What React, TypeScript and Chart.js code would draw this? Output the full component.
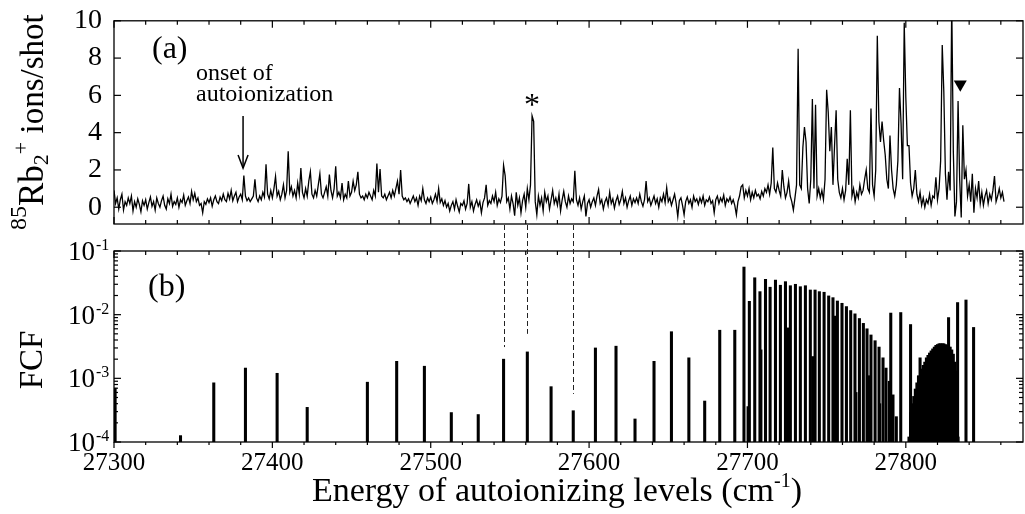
import React, { useEffect, useRef } from 'react';
import { Chart, registerables } from 'chart.js';

Chart.register(...registerables);

const W = 1025;
const H = 514;
const FONT = '"Liberation Serif", "Times New Roman", serif';

// ---------- axes ----------
const xMin = 27300;
const xMax = 27874;
const xTickValues = [27300, 27400, 27500, 27600, 27700, 27800];
const xMinorStep = 20;
const topYMin = -0.9;
const topYMax = 10;
const topYTickValues = [0, 2, 4, 6, 8, 10];
const fcfMin = 1e-4;
const fcfMax = 1e-1;
const fcfDecadeExponents = [-4, -3, -2, -1];

// ---------- (a) ion spectrum, 1 cm-1 steps from 27300 ----------
const spectrumStart = 27300;
const spectrumStep = 1;
const spectrumIons = [
  0.9, 0.2, 0.5, -0.1, 0.4, 0.7, -0.15, 0.3, 0.1, 0.5,
  0.2, 0.6, -0.2, 0.3, 0.0, 0.45, 0.15, -0.25, 0.35, 0.1,
  0.4, -0.1, 0.25, 0.55, 0.05, 0.3, -0.15, 0.5, 0.2, 0.0,
  0.35, 0.6, 0.1, -0.1, 0.45, 0.2, 0.7, 0.05, 0.3, 0.15,
  0.5, 0.0, 0.4, 0.25, 0.65, 0.1, 0.35, 0.55, 0.2, 0.85,
  0.4, 0.75, 0.3, 0.5, 0.1, 0.2, -0.3, 0.3, 0.15, 0.45,
  0.25, 0.5, 0.05, 0.4, 0.6, 0.3, 0.2, 0.55, 0.35, 0.7,
  0.4, 0.3, 0.75, 0.45, 0.9, 0.35, 0.6, 0.8, 0.3, 0.55,
  0.7, 0.4, 1.7, 0.6, 0.35, 0.5, 0.3, 0.45, 0.6, 1.5,
  0.5, 0.3, 0.6, 0.4, 0.8, 0.55, 2.3, 0.7, 0.45, 0.9,
  0.5, 1.0, 1.65, 0.6, 0.85, 0.4, 0.7, 1.2, 0.5, 0.9,
  3.0, 0.8, 1.1, 0.6, 0.9, 0.5, 1.3, 0.7, 2.1, 0.8,
  0.5, 1.0, 0.6, 1.4, 1.9, 0.7, 0.5, 0.9, 0.6, 1.2,
  1.8, 0.7, 0.5, 0.8, 1.1, 0.6, 1.75, 0.9, 0.5, 1.0,
  2.2, 0.6, 0.8, 0.5, 1.3, 0.4, 0.7, 0.5, 1.4, 0.6,
  0.8, 1.4, 0.9, 1.2, 1.9, 0.7, 0.5, 0.6, 0.4, 0.7,
  0.5, 0.8, 0.6, 0.4, 0.9, 0.6, 2.35, 0.8, 2.05, 0.6,
  0.5, 0.7, 0.4, 0.6, 0.8, 0.5, 0.9, 0.6, 1.0, 1.4,
  0.7, 2.0, 0.6, 0.4, 0.5, 0.3, 0.45, 0.2, 0.4, 0.6,
  0.3, 0.5, 0.1, 0.6, 0.35, 1.0, 0.4, 0.2, 0.5, 0.3,
  0.55, 0.2, 0.4, 0.7, 0.3, 1.0, 0.25, 0.45, 0.1, 0.35,
  0.0, 0.2, -0.2, 0.1, 0.3, -0.1, 0.4, 0.05, -0.25, 0.2,
  0.1, 0.35, -0.1, 0.2, 1.25, 0.0, 0.3, -0.2, 0.15, 0.4,
  0.05, 0.3, -0.3, 0.25, 0.5, 1.2, 0.1, 0.35, 0.2, 0.6,
  0.3, 0.8, 0.1, 0.45, 0.25, 0.6, 2.25, 1.7, 0.3, 0.5,
  -0.1, 0.6, 0.2, -0.45, 0.8, 0.1, 0.5, -0.3, 0.35, 0.7,
  0.0, 1.0, 0.4, 1.2, 4.9, 4.6, 0.3, -0.4, 0.6, 0.1,
  0.5, -0.2, 0.8, 0.3, 0.6, -0.1, 0.4, 0.9, 0.2, 0.5,
  0.1, 0.7, -0.2, 0.4, 0.85, 0.3, 0.0, 0.6, 0.2, 0.45,
  0.3, 1.95, 0.4, 0.1, 0.5, -0.1, 0.3, 0.6, -0.5, 0.2,
  0.4, 0.0, 0.3, 0.5, 0.1, 0.6, 0.95, 0.2, 0.4, -0.1,
  0.3, 0.5, 0.1, 0.8, 0.2, 0.45, -0.05, 0.35, 0.6, 0.15,
  0.4, 0.85, 0.2, 0.5, 0.0, 0.35, 0.6, 0.1, 0.45, 0.25,
  0.5, 0.2, 0.7, 0.3, 0.05, 0.4, 1.4, 0.3, 0.5, 0.1,
  0.35, 0.6, 0.2, 0.45, 0.0, 0.5, 0.3, 0.7, 0.25, 1.05,
  0.3, 0.5, 0.1, 0.4, 0.7, 0.2, -0.5, 0.35, 0.5, 0.1,
  -0.4, 0.3, 0.55, 0.2, 0.4, 0.0, 0.6, 0.3, 0.45, 0.15,
  0.5, 0.25, 0.6, 0.1, 0.4, 0.3, 0.55, 0.2, 0.35, -0.3,
  0.4, 0.6, 0.2, 0.5, 0.3, 0.65, 0.1, 0.45, 0.3, 0.55,
  0.2, 0.4, 0.1, -0.4, 0.3, 0.6, 1.1, 1.2, 0.5, 0.9,
  0.6, 1.0, 0.4, 0.8, 0.5, 0.9, 0.6, 0.7, 0.45, 0.85,
  0.6, 1.0, 0.8, 1.2, 0.7, 1.3, 3.2, 1.0, 0.8, 1.3,
  0.9, 0.6, 2.0, 1.1, 0.5, 0.8, 1.4, 0.6, 0.3, -0.15,
  0.5, 1.2, 8.5, 1.2, 1.0, 3.2, 4.3, 3.5, 1.0, 0.2,
  1.5, 5.8, 1.0, 5.5, 0.6, 1.0, 0.5, 0.9, 0.4, 1.5,
  6.3, 5.1, 3.0, 4.3, 1.2, 3.3, 5.2, 1.5, 0.8, 0.5,
  1.0, 0.4, 0.9, 2.6, 1.2, 5.2, 0.6, 1.0, 0.3, 0.8,
  0.5, 1.2, 0.7, 0.9, 1.5, 2.0, 1.0, 0.8, 5.3, 1.2,
  0.6, 2.0, 9.2, 4.6, 3.5, 4.6, 3.6, 2.8, 1.5, 1.0,
  3.85, 2.0, 1.0, 0.6, 1.2, 2.5, 6.4, 4.5, 1.5, 9.9,
  5.9, 3.3, 3.3, 1.3, 0.6, 1.0, 2.0, 0.7, 0.3, 0.8,
  0.1, 0.5, 0.0, 0.4, 0.2, 0.7, 0.1, 0.6, 0.5, 1.6,
  0.4, 1.0, 2.5, 8.7, 6.2, 1.8, 0.4, 1.9, 0.9, 11,
  3.0, -0.5, 0.3, 5.7, 1.5, -0.55, 4.4, 1.5, 2.0, 0.6,
  1.2, 0.3, 1.8, -0.3, 1.0, 0.5, 1.4, 0.2, 0.8, 0.1,
  0.6, 0.9, 0.2, 0.7, 0.4, 0.9, 1.67, 0.3, 0.6, 1.0,
  0.5, 0.8, 0.3,
];

// annotations of (a)
const onsetEnergy = 27381.5;
const starEnergy = 27564;
const markerEnergy = 27834.4;

// ---------- (b) Franck-Condon factors ----------
const levelEnergies = [
  27300.7, 27342, 27363, 27383, 27403, 27422, 27460, 27478.5, 27496, 27513,
  27530, 27546, 27561, 27576, 27590, 27604, 27617, 27629, 27641, 27652,
  27663, 27673, 27682.5, 27692, 27790.5, 27796.8, 27803, 27827, 27832.7,
  27838, 27842.8,
];
const levelFcf = [
  7e-4, 1.26e-4, 8.5e-4, 1.45e-3, 1.2e-3, 3.5e-4, 8.7e-4, 1.85e-3, 1.55e-3, 2.9e-4,
  2.7e-4, 2.0e-3, 2.6e-3, 7.4e-4, 3.1e-4, 3.0e-3, 3.2e-3, 2.3e-4, 1.85e-3, 5.4e-3,
  2.1e-3, 4.4e-4, 5.7e-3, 5.7e-3, 1.06e-2, 1.08e-2, 7.0e-3, 9.0e-3, 1.55e-2,
  1.7e-2, 6.3e-3,
];
const combEnergies = [
  27697.8, 27701.2, 27704.6, 27707.9, 27711.4, 27714.3, 27717.7, 27720.8, 27724.0, 27727.1,
  27730.3, 27733.4, 27736.6, 27739.7, 27742.7, 27745.4, 27748.4, 27751.3, 27754.0, 27756.8,
  27759.7, 27762.5, 27765.2, 27767.9, 27770.7, 27773.2, 27775.5, 27778.0, 27780.6, 27783.1,
  27785.6, 27787.5, 27789.6, 27791.9, 27794.0,
];
const combFcf = [
  0.056, 0.0162, 0.038, 0.023, 0.036, 0.027, 0.035, 0.029, 0.033, 0.0285,
  0.030, 0.0275, 0.0285, 0.0244, 0.0244, 0.023, 0.0225, 0.0197, 0.0185, 0.0164,
  0.0151, 0.0134, 0.0116, 0.0103, 0.0087, 0.0073, 0.0060, 0.0048, 0.0039, 0.0031,
  0.0021, 0.00145, 0.0009, 0.00055, 0.00025,
];
const sideEnergies = [27700.4, 27708.5, 27725.9, 27741.2, 27755.6, 27768.5, 27776.6, 27783.5];
const sideFcf = [3.6e-4, 2.8e-3, 6.2e-3, 2.2e-3, 9.5e-3, 6e-4, 1.1e-3, 4e-4];
const humpEnergies = [
  27802, 27803, 27804, 27805, 27806, 27807, 27808, 27809, 27810, 27811,
  27812, 27813, 27814, 27815, 27816, 27817, 27818, 27819, 27820, 27821,
  27822, 27823, 27824, 27825, 27826, 27827, 27828, 27829, 27830, 27831,
  27832, 27833,
];
const humpFcf = [
  1.2e-4, 2.9e-4, 4e-4, 5.2e-4, 6.8e-4, 8.5e-4, 1.1e-3, 2.1e-3, 1.4e-3, 1.6e-3,
  1.8e-3, 2.1e-3, 2.3e-3, 2.5e-3, 2.7e-3, 2.9e-3, 3.1e-3, 3.3e-3, 3.4e-3, 3.5e-3,
  3.5e-3, 3.5e-3, 3.5e-3, 3.4e-3, 3.3e-3, 3.2e-3, 3.1e-3, 2.8e-3, 2.4e-3, 1.8e-3,
  1.3e-3, 1.2e-4,
];

// dashed connectors between (a) and (b)
const dashEnergies = [27546, 27561, 27590];
const dashEndFcf = [3.1e-3, 5.0e-3, 5.7e-4];

function seg(ctx: CanvasRenderingContext2D, x1: number, y1: number, x2: number, y2: number) {
  ctx.beginPath();
  ctx.moveTo(x1, y1);
  ctx.lineTo(x2, y2);
  ctx.stroke();
}

function drawFrameAndXTicks(ctx: CanvasRenderingContext2D, chart: any, bottomOutward: boolean) {
  const a = chart.chartArea;
  const xs = chart.scales.x;
  ctx.strokeStyle = '#000';
  ctx.lineWidth = 1.3;
  ctx.strokeRect(a.left, a.top, a.right - a.left, a.bottom - a.top);
  ctx.lineWidth = 1.2;
  for (let v = xTickValues[0]; v <= xMax; v += xMinorStep) {
    const px = xs.getPixelForValue(v);
    const len = (v - xTickValues[0]) % 100 === 0 ? 7 : 4;
    seg(ctx, px, a.top, px, a.top + len);
    if (bottomOutward) seg(ctx, px, a.bottom, px, a.bottom + len - 1);
    else seg(ctx, px, a.bottom, px, a.bottom - len);
  }
}

const topDecor = {
  id: 'topDecor',
  afterDraw(chart: any) {
    const ctx: CanvasRenderingContext2D = chart.ctx;
    const a = chart.chartArea;
    const xs = chart.scales.x;
    const ys = chart.scales.y;
    ctx.save();
    drawFrameAndXTicks(ctx, chart, false);
    for (const v of topYTickValues) {
      const py = ys.getPixelForValue(v);
      seg(ctx, a.left, py, a.left + 7, py);
      seg(ctx, a.right, py, a.right - 7, py);
    }
    ctx.fillStyle = '#000';
    // y title: 85Rb2+ ions/shot
    ctx.save();
    ctx.translate(43, 230);
    ctx.rotate(-Math.PI / 2);
    ctx.textAlign = 'left';
    ctx.textBaseline = 'alphabetic';
    const parts: [string, number, number][] = [
      ['85', 24, -17],
      ['Rb', 35, 0],
      ['2', 22, 5],
      ['+', 22, -15],
      [' ions/shot', 33, 0],
    ];
    let cx = 0;
    for (const [t, s, dy] of parts) {
      ctx.font = `${s}px ${FONT}`;
      ctx.fillText(t, cx, dy);
      cx += ctx.measureText(t).width;
    }
    ctx.restore();
    // panel label and notes
    ctx.textAlign = 'left';
    ctx.textBaseline = 'alphabetic';
    ctx.font = `32px ${FONT}`;
    ctx.fillText('(a)', 152, 58);
    ctx.font = `24px ${FONT}`;
    ctx.fillText('onset of', 196, 80);
    ctx.fillText('autoionization', 196, 101);
    // arrow
    const ax = xs.getPixelForValue(onsetEnergy);
    const ay1 = ys.getPixelForValue(4.9);
    const ay2 = ys.getPixelForValue(2.1);
    ctx.lineWidth = 1.5;
    seg(ctx, ax, ay1, ax, ay2);
    ctx.beginPath();
    ctx.moveTo(ax - 5, ay2 - 13);
    ctx.lineTo(ax, ay2);
    ctx.lineTo(ax + 5, ay2 - 13);
    ctx.stroke();
    // star
    ctx.textAlign = 'center';
    ctx.font = `32px ${FONT}`;
    ctx.fillText('*', xs.getPixelForValue(starEnergy), ys.getPixelForValue(5.68) + 14);
    // filled triangle
    const tx = xs.getPixelForValue(markerEnergy);
    const tTop = ys.getPixelForValue(6.8);
    const tBot = ys.getPixelForValue(6.2);
    ctx.beginPath();
    ctx.moveTo(tx - 6.5, tTop);
    ctx.lineTo(tx + 6.5, tTop);
    ctx.lineTo(tx, tBot);
    ctx.closePath();
    ctx.fill();
    ctx.restore();
  },
};

const bottomDecor = {
  id: 'bottomDecor',
  afterDraw(chart: any) {
    const ctx: CanvasRenderingContext2D = chart.ctx;
    const a = chart.chartArea;
    const xs = chart.scales.x;
    const ys = chart.scales.y;
    ctx.save();
    drawFrameAndXTicks(ctx, chart, true);
    // log ticks
    for (const e of fcfDecadeExponents) {
      const base = Math.pow(10, e);
      const py = ys.getPixelForValue(base);
      seg(ctx, a.left, py, a.left + 7, py);
      seg(ctx, a.right, py, a.right - 7, py);
      if (e < fcfDecadeExponents[fcfDecadeExponents.length - 1]) {
        for (let m = 2; m <= 9; m++) {
          const pm = ys.getPixelForValue(m * base);
          seg(ctx, a.left, pm, a.left + 4, pm);
          seg(ctx, a.right, pm, a.right - 4, pm);
        }
      }
    }
    ctx.fillStyle = '#000';
    // log tick labels
    for (const e of fcfDecadeExponents) {
      const py = ys.getPixelForValue(Math.pow(10, e));
      ctx.textAlign = 'right';
      ctx.textBaseline = 'alphabetic';
      ctx.font = `27px ${FONT}`;
      ctx.fillText('10', 95, py + 9);
      ctx.textAlign = 'left';
      ctx.font = `16px ${FONT}`;
      ctx.fillText(String(e), 96, py - 1);
    }
    // FCF title
    ctx.save();
    ctx.translate(42, 360);
    ctx.rotate(-Math.PI / 2);
    ctx.textAlign = 'center';
    ctx.textBaseline = 'alphabetic';
    ctx.font = `33px ${FONT}`;
    ctx.fillText('FCF', 0, 0);
    ctx.restore();
    // x title
    ctx.textAlign = 'left';
    ctx.textBaseline = 'alphabetic';
    const main = 'Energy of autoionizing levels (cm';
    ctx.font = `34px ${FONT}`;
    const w1 = ctx.measureText(main).width;
    const w3 = ctx.measureText(')').width;
    ctx.font = `20px ${FONT}`;
    const w2 = ctx.measureText('-1').width;
    const total = w1 + w2 + w3;
    let sx = 557 - total / 2;
    const by = 501;
    ctx.font = `34px ${FONT}`;
    ctx.fillText(main, sx, by);
    sx += w1;
    ctx.font = `20px ${FONT}`;
    ctx.fillText('-1', sx, by - 14);
    sx += w2;
    ctx.font = `34px ${FONT}`;
    ctx.fillText(')', sx, by);
    // panel label
    ctx.font = `32px ${FONT}`;
    ctx.fillText('(b)', 148, 296);
    // dashed connectors
    ctx.strokeStyle = '#222';
    ctx.lineWidth = 1;
    ctx.setLineDash([5, 3]);
    dashEnergies.forEach((en, i) => {
      const px = Math.round(xs.getPixelForValue(en)) + 0.5;
      seg(ctx, px, a.top - 26, px, ys.getPixelForValue(dashEndFcf[i]));
    });
    ctx.setLineDash([]);
    ctx.restore();
  },
};

function sticks(energies: number[], values: number[]) {
  return {
    data: energies.map((e, i) => ({ x: e, y: values[i] })),
    backgroundColor: '#000',
    borderWidth: 0,
    barThickness: 2.4,
    grouped: false,
  };
}

export default function App() {
  const topRef = useRef<HTMLCanvasElement>(null);
  const botRef = useRef<HTMLCanvasElement>(null);

  useEffect(() => {
    const common = {
      responsive: false,
      animation: false as const,
      devicePixelRatio: 1,
      events: [] as any[],
      plugins: { legend: { display: false }, tooltip: { enabled: false } },
    };

    const top = new Chart(topRef.current as HTMLCanvasElement, {
      type: 'line',
      data: {
        datasets: [
          {
            data: spectrumIons.map((v, i) => ({ x: spectrumStart + i * spectrumStep, y: v })),
            borderColor: '#000',
            borderWidth: 1.3,
            pointRadius: 0,
            tension: 0,
            fill: false,
            clip: 0,
          } as any,
        ],
      },
      options: {
        ...common,
        layout: { padding: { left: 0, right: 2, top: 16, bottom: 290 } },
        scales: {
          x: { type: 'linear', min: xMin, max: xMax, display: false },
          y: {
            type: 'linear',
            min: topYMin,
            max: topYMax,
            afterBuildTicks: (s: any) => {
              s.ticks = topYTickValues.map((v) => ({ value: v }));
            },
            afterFit: (s: any) => {
              s.width = 114;
            },
            grid: { display: false },
            border: { display: false },
            ticks: { font: { family: FONT, size: 28 }, color: '#000', padding: 4 },
          },
        },
      } as any,
      plugins: [topDecor],
    });

    const bot = new Chart(botRef.current as HTMLCanvasElement, {
      type: 'bar',
      data: {
        datasets: [
          sticks(levelEnergies, levelFcf),
          sticks(combEnergies, combFcf),
          sticks(sideEnergies, sideFcf),
          sticks(humpEnergies, humpFcf),
        ] as any,
      },
      options: {
        ...common,
        layout: { padding: { left: 0, right: 2, top: 251, bottom: 0 } },
        scales: {
          x: {
            type: 'linear',
            min: xMin,
            max: xMax,
            offset: false,
            afterBuildTicks: (s: any) => {
              s.ticks = xTickValues.map((v) => ({ value: v }));
            },
            afterFit: (s: any) => {
              s.height = 72;
            },
            grid: { display: false, drawTicks: false },
            border: { display: false },
            ticks: {
              font: { family: FONT, size: 25 },
              color: '#000',
              padding: 6,
              maxRotation: 0,
              autoSkip: false,
              callback: (v: any) => String(v),
            },
          },
          y: {
            type: 'logarithmic',
            min: fcfMin,
            max: fcfMax,
            afterFit: (s: any) => {
              s.width = 114;
            },
            grid: { display: false },
            border: { display: false },
            ticks: { display: false },
          },
        },
      } as any,
      plugins: [bottomDecor],
    });

    return () => {
      top.destroy();
      bot.destroy();
    };
  }, []);

  return (
    <div style={{ position: 'absolute', left: 0, top: 0, width: W, height: H, background: '#fff' }}>
      <canvas ref={botRef} width={W} height={H} style={{ position: 'absolute', left: 0, top: 0 }} />
      <canvas ref={topRef} width={W} height={H} style={{ position: 'absolute', left: 0, top: 0 }} />
    </div>
  );
}
